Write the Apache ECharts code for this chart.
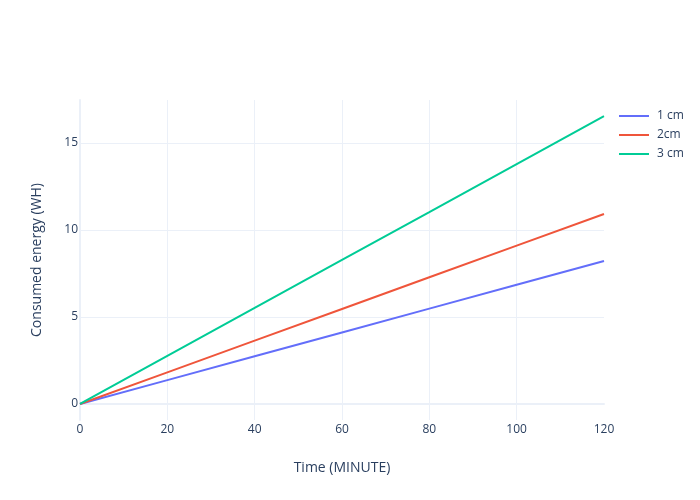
<!DOCTYPE html>
<html>
<head>
<meta charset="utf-8">
<script src="https://cdn.jsdelivr.net/npm/echarts@6/dist/echarts.min.js"></script>
<style>html,body{margin:0;padding:0;background:#fff}#c{width:700px;height:500px}</style>
</head>
<body>
<div id="c"></div>
<script>
const times = [0, 20, 40, 60, 80, 100, 120];
const cm1 = [0, 1.37, 2.74, 4.11, 5.48, 6.85, 8.22];
const cm2 = [0, 1.82, 3.64, 5.46, 7.28, 9.10, 10.92];
const cm3 = [0, 2.76, 5.52, 8.28, 11.03, 13.79, 16.55];
const seriesNames = ['1 cm', '2cm', '3 cm'];
const colors = ['#636EFA', '#EF553B', '#00CC96'];

const font = 'Open Sans';
const txt = '#2a3f5f';
const grid = '#EBF0F8';

function pairs(ys){ return times.map((t,i)=>[t, ys[i]]); }

const chart = echarts.init(document.getElementById('c'));
chart.setOption({
  animation: false,
  backgroundColor: '#fff',
  textStyle: {fontFamily: font, color: txt},
  color: colors,
  grid: {left: 80, right: 96, top: 100, bottom: 80},
  legend: {
    orient: 'vertical', left: 614, top: 104,
    itemWidth: 30, itemHeight: 2, itemGap: 5,
    icon: 'rect',
    textStyle: {fontFamily: font, color: txt, fontSize: 12, lineHeight: 14, padding: [0, 0, 0, 3]},
    data: seriesNames
  },
  xAxis: {
    type: 'value', min: 0, max: 120, interval: 20,
    name: 'Time (MINUTE)', nameLocation: 'middle', nameGap: 41,
    nameTextStyle: {fontFamily: font, color: txt, fontSize: 14},
    axisLine: {show: true, onZero: true, lineStyle: {color: grid, width: 2}},
    axisTick: {show: false},
    axisLabel: {color: txt, fontSize: 12, fontFamily: font, margin: 4},
    splitLine: {show: true, showMaxLine: false, lineStyle: {color: grid, width: 1}}
  },
  yAxis: {
    type: 'value', min: -0.92, max: 17.47, splitNumber: 4,
    name: 'Consumed energy (WH)', nameLocation: 'middle', nameGap: 36,
    nameTextStyle: {fontFamily: font, color: txt, fontSize: 14},
    axisLine: {show: true, onZero: true, lineStyle: {color: grid, width: 2}},
    axisTick: {show: false},
    axisLabel: {color: txt, fontSize: 12, fontFamily: font, margin: 2,
      formatter: v => (Math.abs(v % 5) < 1e-9 ? String(v) : '')},
    splitLine: {show: true, showMinLine: false, showMaxLine: false, lineStyle: {color: grid, width: 1}}
  },
  series: [
    {name: seriesNames[0], type: 'line', data: pairs(cm1), showSymbol: false, lineStyle: {width: 2}},
    {name: seriesNames[1], type: 'line', data: pairs(cm2), showSymbol: false, lineStyle: {width: 2}},
    {name: seriesNames[2], type: 'line', data: pairs(cm3), showSymbol: false, lineStyle: {width: 2}}
  ]
});
</script>
</body>
</html>
